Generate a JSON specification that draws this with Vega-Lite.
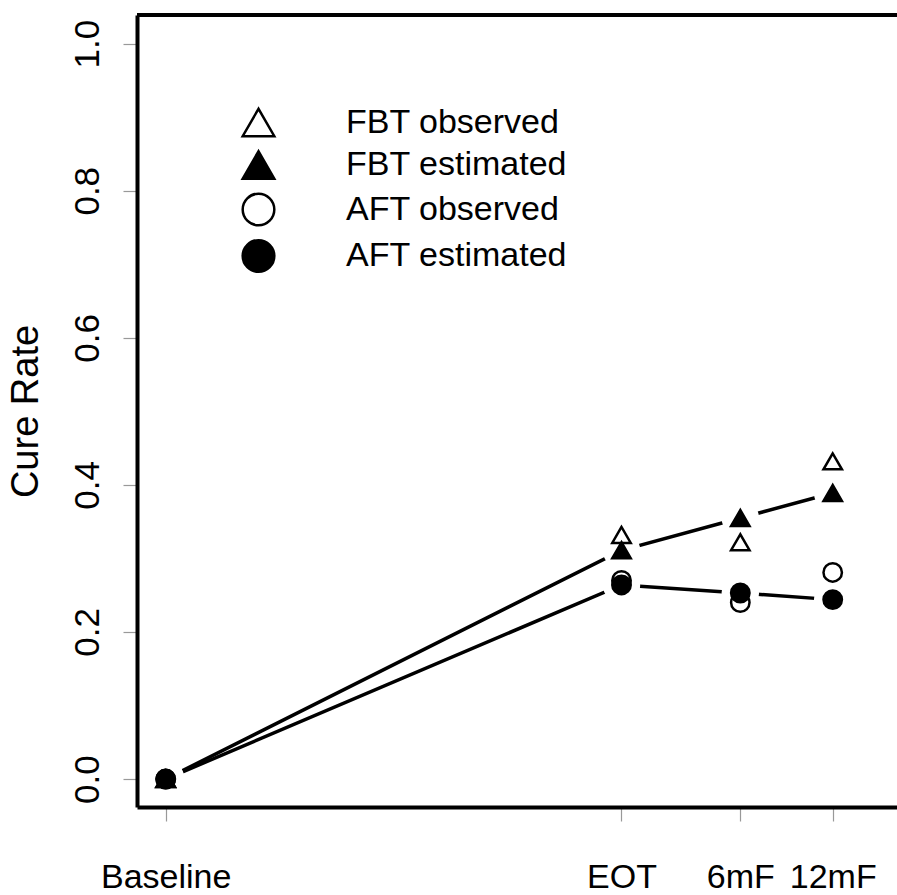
{
  "$schema": "https://vega.github.io/schema/vega-lite/v6.json",
  "width": 760,
  "height": 792,
  "autosize": {"type": "none"},
  "padding": {"left": 137, "top": 15, "right": 0, "bottom": 88},
  "background": "white",
  "config": {
    "view": {"stroke": null},
    "font": "Liberation Sans",
    "legend": {
      "orient": "none",
      "legendX": 104,
      "legendY": 90,
      "padding": 0,
      "offset": 0,
      "title": null,
      "symbolSize": 1000,
      "symbolStrokeWidth": 2.5,
      "symbolStrokeColor": "black",
      "labelFontSize": 34,
      "labelFont": "Liberation Sans",
      "labelColor": "black",
      "labelOffset": 70,
      "labelLimit": 0,
      "rowPadding": 3.5,
      "labelBaseline": "middle"
    }
  },
  "data": {
    "values": [
      {"time": "Baseline", "pos": 0, "group": "FBT", "type": "observed", "series": "FBT observed", "rate": 0},
      {"time": "Baseline", "pos": 0, "group": "FBT", "type": "estimated", "series": "FBT estimated", "rate": 0},
      {"time": "Baseline", "pos": 0, "group": "AFT", "type": "observed", "series": "AFT observed", "rate": 0},
      {"time": "Baseline", "pos": 0, "group": "AFT", "type": "estimated", "series": "AFT estimated", "rate": 0},
      {"time": "EOT", "pos": 4.558, "group": "FBT", "type": "observed", "series": "FBT observed", "rate": 0.332},
      {"time": "EOT", "pos": 4.558, "group": "FBT", "type": "estimated", "series": "FBT estimated", "rate": 0.311},
      {"time": "EOT", "pos": 4.558, "group": "AFT", "type": "observed", "series": "AFT observed", "rate": 0.270},
      {"time": "EOT", "pos": 4.558, "group": "AFT", "type": "estimated", "series": "AFT estimated", "rate": 0.264},
      {"time": "6mF", "pos": 5.746, "group": "FBT", "type": "observed", "series": "FBT observed", "rate": 0.322},
      {"time": "6mF", "pos": 5.746, "group": "FBT", "type": "estimated", "series": "FBT estimated", "rate": 0.355},
      {"time": "6mF", "pos": 5.746, "group": "AFT", "type": "observed", "series": "AFT observed", "rate": 0.240},
      {"time": "6mF", "pos": 5.746, "group": "AFT", "type": "estimated", "series": "AFT estimated", "rate": 0.253},
      {"time": "12mF", "pos": 6.67, "group": "FBT", "type": "observed", "series": "FBT observed", "rate": 0.432},
      {"time": "12mF", "pos": 6.67, "group": "FBT", "type": "estimated", "series": "FBT estimated", "rate": 0.389},
      {"time": "12mF", "pos": 6.67, "group": "AFT", "type": "observed", "series": "AFT observed", "rate": 0.281},
      {"time": "12mF", "pos": 6.67, "group": "AFT", "type": "estimated", "series": "AFT estimated", "rate": 0.244}
    ]
  },
  "layer": [
    {
      "transform": [{"filter": "datum.type == 'estimated'"}],
      "mark": {"type": "line", "stroke": "black", "strokeWidth": 3.5},
      "encoding": {
        "x": {
          "field": "pos",
          "type": "quantitative",
          "scale": {"domain": [-0.287, 7.313], "nice": false, "zero": false},
          "axis": {
            "values": [0, 4.558, 5.746, 6.67],
            "labelExpr": "datum.value == 0 ? 'Baseline' : (datum.value < 5 ? 'EOT' : (datum.value < 6 ? '6mF' : '12mF'))",
            "labelAngle": 0,
            "labelAlign": "center",
            "labelBaseline": "alphabetic",
            "labelPadding": 66,
            "labelFontSize": 34,
            "labelColor": "black",
            "labelOverlap": false,
            "labelFlush": false,
            "labelBound": false,
            "tickSize": 14,
            "tickColor": "#999999",
            "tickWidth": 1.2,
            "domainColor": "black",
            "domainWidth": 4,
            "grid": false,
            "title": null
          }
        },
        "y": {
          "field": "rate",
          "type": "quantitative",
          "scale": {"domain": [-0.038, 1.039], "nice": false, "zero": false},
          "axis": {
            "values": [0, 0.2, 0.4, 0.6, 0.8, 1.0],
            "format": ".1f",
            "labelAngle": -90,
            "labelAlign": "center",
            "labelBaseline": "alphabetic",
            "labelPadding": 25,
            "labelFontSize": 35,
            "labelColor": "black",
            "labelOverlap": false,
            "labelFlush": false,
            "tickSize": 14,
            "tickColor": "#999999",
            "tickWidth": 1.2,
            "domainColor": "black",
            "domainWidth": 4,
            "grid": false,
            "title": "Cure Rate",
            "titleFontSize": 38,
            "titleFontWeight": "normal",
            "titleColor": "black",
            "titleBaseline": "alphabetic",
            "titlePadding": 33
          }
        },
        "detail": {"field": "group"}
      }
    },
    {
      "transform": [{"filter": "datum.type == 'estimated'"}],
      "mark": {"type": "point", "shape": "circle", "filled": true, "fill": "white", "opacity": 1, "size": 1400, "strokeWidth": 0},
      "encoding": {
        "x": {"field": "pos", "type": "quantitative"},
        "y": {"field": "rate", "type": "quantitative"}
      }
    },
    {
      "mark": {"type": "point", "filled": true, "strokeWidth": 2.5, "opacity": 1, "size": 340},
      "encoding": {
        "x": {"field": "pos", "type": "quantitative"},
        "y": {"field": "rate", "type": "quantitative"},
        "shape": {
          "field": "series",
          "type": "nominal",
          "scale": {
            "domain": ["FBT observed", "FBT estimated", "AFT observed", "AFT estimated"],
            "range": ["triangle-up", "triangle-up", "circle", "circle"]
          }
        },
        "fill": {
          "field": "series",
          "type": "nominal",
          "scale": {
            "domain": ["FBT observed", "FBT estimated", "AFT observed", "AFT estimated"],
            "range": ["transparent", "black", "transparent", "black"]
          }
        },
        "stroke": {
          "field": "series",
          "type": "nominal",
          "scale": {
            "domain": ["FBT observed", "FBT estimated", "AFT observed", "AFT estimated"],
            "range": ["black", "black", "black", "black"]
          }
        }
      }
    },
    {
      "mark": {"type": "rule", "stroke": "black", "strokeWidth": 4},
      "encoding": {
        "y": {"datum": 1.039, "type": "quantitative"}
      }
    }
  ]
}
